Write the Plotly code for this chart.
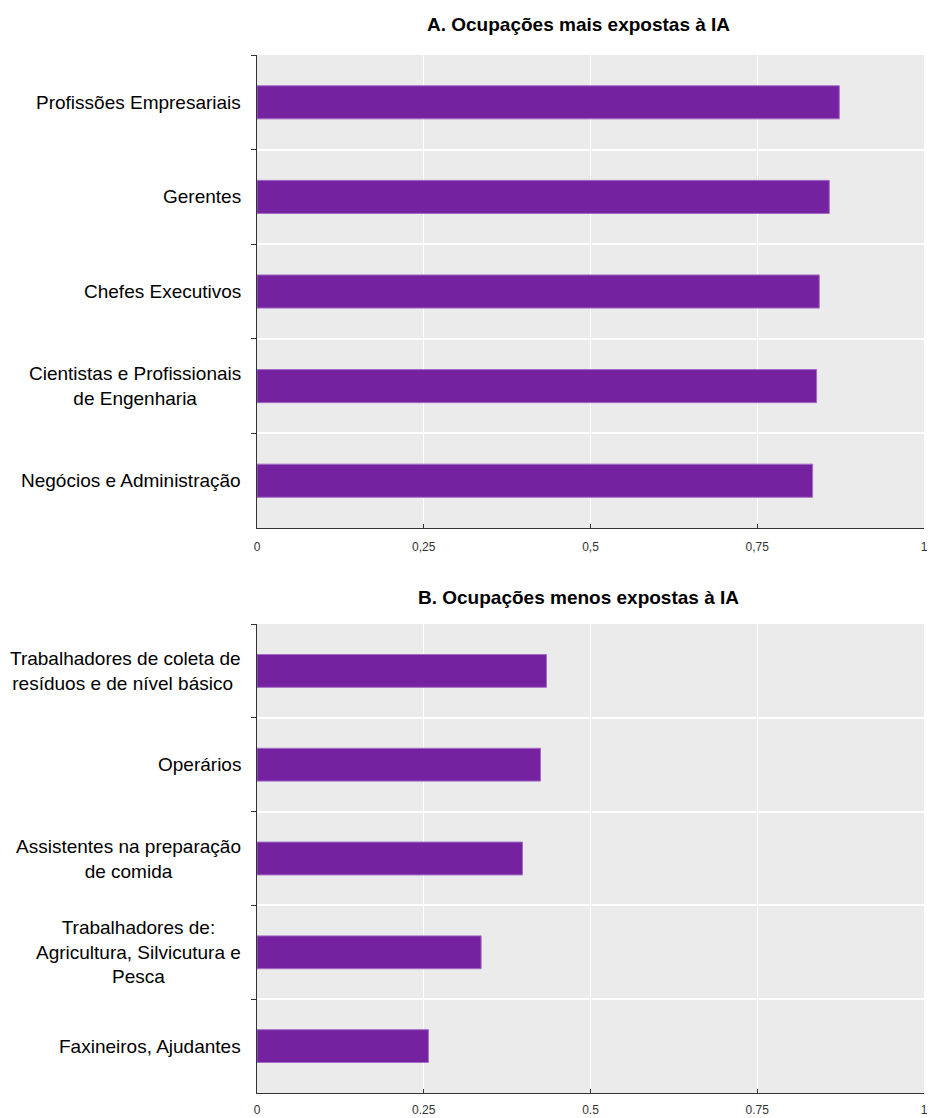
import plotly.graph_objects as go

# ---- data ----
cats_a = ["Profissões Empresariais", "Gerentes", "Chefes Executivos",
          "Cientistas e Profissionais<br>de Engenharia", "Negócios e Administração"]
vals_a = [0.873, 0.858, 0.843, 0.839, 0.833]

cats_b = ["Trabalhadores de coleta de<br>resíduos e de nível básico ", "Operários",
          "Assistentes na preparação<br>de comida",
          "Trabalhadores de:<br>Agricultura, Silvicutura e<br>Pesca", "Faxineiros, Ajudantes"]
vals_b = [0.434, 0.425, 0.398, 0.336, 0.257]

tick_vals = [0, 0.25, 0.5, 0.75, 1]
tick_text_a = ["0", "0,25", "0,5", "0,75", "1"]
tick_text_b = ["0", "0.25", "0.5", "0.75", "1"]

title_a = "A. Ocupações mais expostas à IA"
title_b = "B. Ocupações menos expostas à IA"

# ---- style ----
FONT = "Liberation Sans, Arial, sans-serif"
BAR = "#7522A0"
BAR_EDGE = "#A36BC4"
BG = "#EBEBEB"
AX = "#333333"

W, H = 928, 1118
ML, MR, MT, MB = 257, 4, 55, 25
plot_h = H - MT - MB
plot_w = W - ML - MR

fig = go.Figure()
fig.add_trace(go.Bar(x=vals_a, y=cats_a, orientation="h", width=0.35,
                     marker=dict(color=BAR, line=dict(color=BAR_EDGE, width=1)),
                     xaxis="x", yaxis="y", showlegend=False, hoverinfo="x+y"))
fig.add_trace(go.Bar(x=vals_b, y=cats_b, orientation="h", width=0.35,
                     marker=dict(color=BAR, line=dict(color=BAR_EDGE, width=1)),
                     xaxis="x2", yaxis="y2", showlegend=False, hoverinfo="x+y"))

top_dom = [(H - MB - 528) / plot_h, 1]
bot_dom = [0, (H - MB - 624) / plot_h]

def xaxis(anchor, ticktext, standoff):
    return dict(anchor=anchor, domain=[0, 1], range=[0, 1], tickvals=tick_vals,
                ticktext=ticktext, ticks="inside", ticklen=4, tickcolor=AX,
                showline=True, linecolor=AX, linewidth=1, showgrid=True,
                gridcolor="white", gridwidth=1, zeroline=False, automargin=False,
                ticklabeloverflow="allow", ticklabelstandoff=standoff,
                tickfont=dict(family=FONT, size=12, color="#333333"))

def yaxis(anchor, dom, cats):
    return dict(anchor=anchor, domain=dom, type="category", categoryorder="array",
                categoryarray=cats, autorange="reversed", tickson="boundaries",
                ticks="outside", ticklen=5, tickcolor=AX, showticklabels=False,
                showline=True, linecolor=AX, linewidth=1, showgrid=True,
                gridcolor="white", gridwidth=1.5, automargin=False)

fig.update_layout(
    width=W, height=H, autosize=False,
    margin=dict(l=ML, r=MR, t=MT, b=MB, autoexpand=False),
    paper_bgcolor="white", plot_bgcolor=BG,
    font=dict(family=FONT, color="#111111"),
    xaxis=xaxis("y", tick_text_a, 8),
    yaxis=yaxis("x", top_dom, cats_a),
    xaxis2=xaxis("y2", tick_text_b, 6),
    yaxis2=yaxis("x2", bot_dom, cats_b),
)

annotations = []
label_x = (243 - ML) / plot_w
for cats, yref in ((cats_a, "y"), (cats_b, "y2")):
    for c in cats:
        annotations.append(dict(text=c, x=label_x, xref="paper", y=c, yref=yref,
                                xanchor="right", yanchor="middle", align="center",
                                showarrow=False,
                                font=dict(family=FONT, size=19, color="#000000")))
title_x = (578 - ML) / plot_w
for t, py in ((title_a, 24), (title_b, 597)):
    annotations.append(dict(text="<b>" + t + "</b>", x=title_x, xref="paper",
                            y=(H - MB - py) / plot_h, yref="paper",
                            xanchor="center", yanchor="middle", showarrow=False,
                            font=dict(family=FONT, size=19, color="#000000")))
fig.update_layout(annotations=annotations)

post = ("document.body.style.margin='0';document.body.style.overflow='hidden';"
        "var gd=document.getElementById('{plot_id}');"
        "Plotly.relayout(gd,{width:%d,height:%d});" % (W, H))
fig.write_html("out.html", config={"responsive": False, "displayModeBar": False},
               post_script=post)
